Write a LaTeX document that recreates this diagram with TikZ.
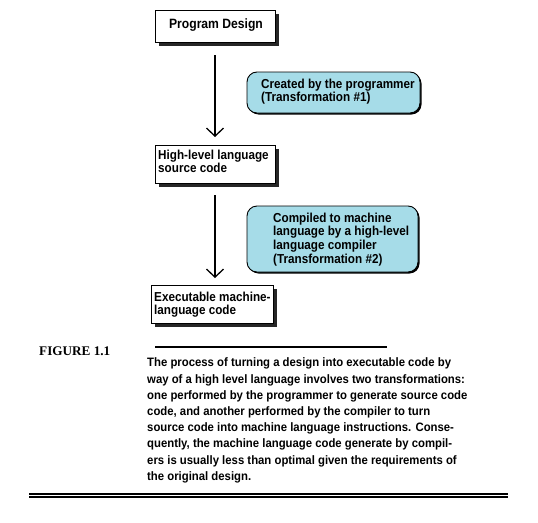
\documentclass[tikz,border=0pt]{standalone}
\usepackage{fontspec}
\usetikzlibrary{arrows.meta}
\setmainfont{Liberation Sans}
\newfontfamily\diagfont[FakeStretch=0.9]{Liberation Sans}
\newfontfamily\parafont[FakeStretch=0.93]{Liberation Sans}
\newfontfamily\capserif{Liberation Serif}
\definecolor{calloutcyan}{RGB}{166,220,232}
\begin{document}
\begin{tikzpicture}[x=1pt,y=-1pt,
  boxstyle/.style={draw=black, line width=0.9pt, fill=white},
  shadowstyle/.style={fill=black!85},
  calloutstyle/.style={draw=black, line width=0.9pt, fill=calloutcyan, rounded corners=10pt},
  dtext/.style={font=\diagfont\fontsize{13}{13.7}\selectfont\bfseries, inner sep=0pt, align=left, anchor=north west},
  ptext/.style={font=\parafont\fontsize{12.2}{16.2}\selectfont\bfseries, inner sep=0pt, align=left, anchor=north west},
  flowarrow/.style={line width=1.3pt, -{Straight Barb[length=8pt,width=17pt,line width=1.3pt]}}
]
\useasboundingbox (0,0) rectangle (538,522);
% boxes with shadows
\fill[shadowstyle] (159,14) rectangle (279,46);
\draw[boxstyle] (155,10) rectangle (275,42);
\node[font=\diagfont\fontsize{13.5}{13.7}\selectfont\bfseries, inner sep=0pt] (pd) at (216,25.5) {Program Design};
\coordinate (pdb) at (215,55);
\coordinate (hlt) at (215,137);

\fill[shadowstyle] (159,149) rectangle (279,187);
\draw[boxstyle] (155,145) rectangle (275,183);
\node[dtext] (hl) at (158,149.6) {High-level language\\source code};
\coordinate (hlb) at (215,195);
\coordinate (ext) at (215,278);

\fill[shadowstyle] (155,289) rectangle (277,327);
\draw[boxstyle] (151,285) rectangle (273,323);
\node[dtext] (ex) at (154,291.6) {Executable machine-\\language code};

% arrows
\draw[flowarrow] (pdb) -- (hlt);
\draw[flowarrow] (hlb) -- (ext);

% callouts
\fill[black, rounded corners=10pt] (248.5,73.5) rectangle (421.5,114.5);
\draw[calloutstyle] (247,72) rectangle (420,113);
\node[dtext] (c1) at (261,78.6) {Created by the programmer\\(Transformation \#1)};

\fill[black, rounded corners=10pt] (248.5,207.5) rectangle (419.5,273.5);
\draw[calloutstyle] (247,206) rectangle (418,272);
\node[dtext] (c2) at (273,212.6) {Compiled to machine\\language by a high-level\\language compiler\\(Transformation \#2)};

% caption
\node[font=\capserif\fontsize{13.2}{14}\selectfont\bfseries, inner sep=0pt, anchor=base west] (fig) at (39,355.5) {FIGURE 1.1};
\coordinate (rl) at (155,347);
\coordinate (rr) at (387,347);
\draw[line width=1.8pt] (rl) -- (rr);
\node[ptext] (para) at (147,357.8) {The process of turning a design into executable code by\\
way of a high level language involves two transformations:\\
one performed by the programmer to generate source code\\
code, and another performed by the compiler to turn\\
source code into machine language instructions. Conse-\\
quently, the machine language code generate by compil-\\
ers is usually less than optimal given the requirements of\\
the original design.};

\coordinate (d1l) at (29,494);
\coordinate (d1r) at (508,494);
\coordinate (d2l) at (29,497);
\coordinate (d2r) at (508,497);
\draw[line width=1.1pt] (d1l) -- (d1r);
\draw[line width=1.1pt] (d2l) -- (d2r);
\end{tikzpicture}
\end{document}
